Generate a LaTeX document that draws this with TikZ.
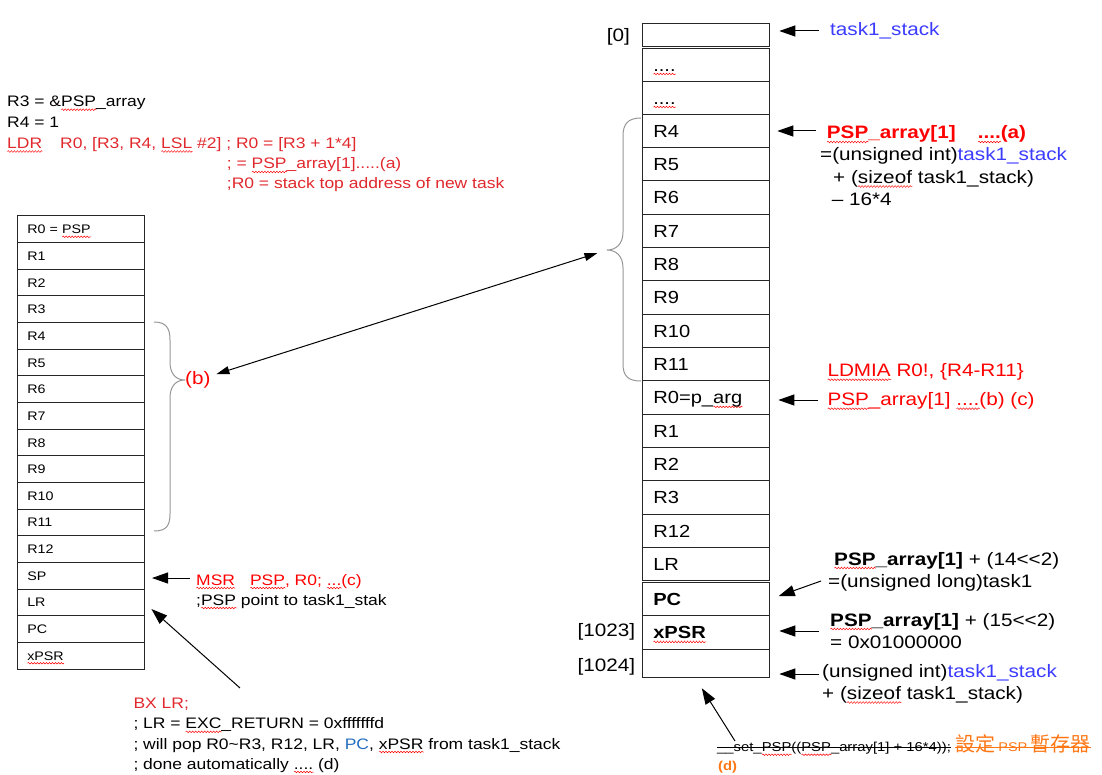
\documentclass[tikz,border=0pt]{standalone}
\usepackage{fontspec}
\setmainfont{Liberation Sans}[FakeStretch=1.15]
\newfontfamily\cjk{Noto Sans CJK TC}
\usetikzlibrary{arrows.meta, positioning, decorations.pathmorphing}
\definecolor{taskblue}{RGB}{60, 60, 255}
\definecolor{codered}{RGB}{224, 40, 45}
\definecolor{hotred}{RGB}{255, 0, 0}
\definecolor{pcblue}{RGB}{35, 110, 190}
\definecolor{regorange}{RGB}{255, 118, 20}
\definecolor{bracegray}{RGB}{150, 150, 150}
\newcommand\notefont{\fontsize{15.2}{18}\selectfont}
\newcommand\rnotefont{\fontsize{18}{22}\selectfont}
\newcommand\lcellfont{\fontsize{12.4}{15}\selectfont}
\newcommand\rcellfont{\fontsize{17.5}{21}\selectfont}
\newcommand\codefont{\fontsize{12.9}{15}\selectfont}
% red wavy line under unknown words
\newsavebox\sqbox
\newcommand\sq[1]{\sbox\sqbox{#1}\rlap{\tikz[x=1pt, y=1pt, baseline=0pt]\draw[hotred, line width=0.5pt, decorate, decoration={snake, amplitude=0.8pt, segment length=3pt}] (0pt,-3pt) -- (\wd\sqbox,-3pt);}\usebox\sqbox}

\begin{document}
\begin{tikzpicture}[x=1pt, y=-1pt,
    lcell/.style={draw=black!85, line width=1pt, outer sep=0pt, minimum width=126.7pt, minimum height=26.65pt, text width=106.7pt, inner xsep=10pt, inner ysep=0pt, align=left, text height=9pt, text depth=0pt, font=\lcellfont},
    rcell/.style={draw=black!85, line width=1pt, outer sep=0pt, minimum width=127pt, minimum height=33.33pt, text width=105pt, inner xsep=11pt, inner ysep=0pt, align=left, text height=12.6pt, text depth=0pt, font=\rcellfont},
    note/.style={anchor=base west, inner sep=0pt, font=\notefont},
    rnote/.style={anchor=base west, inner sep=0pt, font=\rnotefont},
    arrow/.style={-{Triangle[length=16pt, width=11pt]}, line width=1pt},
    dblarrow/.style={{Triangle[length=13pt, width=8pt]}-{Triangle[length=13pt, width=8pt]}, line width=1pt},
    brace/.style={draw=bracegray, line width=1pt}
]
    \useasboundingbox (0,0) rectangle (1102,775);

    % code on top left
    \node[note] (tl1) at (7,106.7) {R3 = \&\sq{PSP}\_array};
    \node[note] (tl2) at (7,127.5) {R4 = 1};
    \node[note, text=codered] (tl3) at (7,148.5) {\sq{LDR}\hspace{18pt}R0, [R3, R4, \sq{LSL} \#2] ; R0 = [R3 + 1*4]};
    \node[note, text=codered] (tl4) at (226.7,169) {; = \sq{PSP}\_array[1].....(a)};
    \node[note, text=codered] (tl5) at (226.7,189) {;R0 = stack top address of new task};

    % left stack (registers)
    \node[lcell] (lr0) at (80.65,229.3) {R0 = \sq{PSP}};
    \node[lcell, below=0pt of lr0] (lr1) {R1};
    \node[lcell, below=0pt of lr1] (lr2) {R2};
    \node[lcell, below=0pt of lr2] (lr3) {R3};
    \node[lcell, below=0pt of lr3] (lr4) {R4};
    \node[lcell, below=0pt of lr4] (lr5) {R5};
    \node[lcell, below=0pt of lr5] (lr6) {R6};
    \node[lcell, below=0pt of lr6] (lr7) {R7};
    \node[lcell, below=0pt of lr7] (lr8) {R8};
    \node[lcell, below=0pt of lr8] (lr9) {R9};
    \node[lcell, below=0pt of lr9] (lr10) {R10};
    \node[lcell, below=0pt of lr10] (lr11) {R11};
    \node[lcell, below=0pt of lr11] (lr12) {R12};
    \node[lcell, below=0pt of lr12] (lsp) {SP};
    \node[lcell, below=0pt of lsp] (llr) {LR};
    \node[lcell, below=0pt of llr] (lpc) {PC};
    \node[lcell, below=0pt of lpc] (lxpsr) {\sq{xPSR}};

    % right stack (task1_stack)
    \node[rcell, minimum height=23pt] (s0) at (705.8,34.8) {};
    \node[rcell, minimum height=33pt, below=2pt of s0] (sd1) {\sq{....}};
    \node[rcell, minimum height=33pt, below=0pt of sd1] (sd2) {\sq{....}};
    \node[rcell, below=0pt of sd2] (sr4) {R4};
    \node[rcell, below=0pt of sr4] (sr5) {R5};
    \node[rcell, below=0pt of sr5] (sr6) {R6};
    \node[rcell, below=0pt of sr6] (sr7) {R7};
    \node[rcell, below=0pt of sr7] (sr8) {R8};
    \node[rcell, below=0pt of sr8] (sr9) {R9};
    \node[rcell, below=0pt of sr9] (sr10) {R10};
    \node[rcell, below=0pt of sr10] (sr11) {R11};
    \node[rcell, below=0pt of sr11] (sr0) {R0=p\_\sq{arg}};
    \node[rcell, below=0pt of sr0] (sr1) {R1};
    \node[rcell, below=0pt of sr1] (sr2) {R2};
    \node[rcell, below=0pt of sr2] (sr3) {R3};
    \node[rcell, below=0pt of sr3] (sr12) {R12};
    \node[rcell, below=0pt of sr12] (slr) {LR};
    \node[rcell, minimum height=33pt, below=2pt of slr] (spc) {\textbf{PC}};
    \node[rcell, below=0pt of spc] (sxpsr) {\textbf{\sq{xPSR}}};
    \node[rcell, minimum height=28pt, below=0pt of sxpsr] (send) {};

    % index labels
    \node[rnote] (idx0) at (606.7,41.5) {[0]};
    \node[rnote] (idx1023) at (577.3,636.7) {[1023]};
    \node[rnote] (idx1024) at (577.3,671.7) {[1024]};

    % braces
    \draw[brace] (154,322) .. controls (166,322) and (170,328) .. (170,340) -- (170,362)
        .. controls (170,374) and (176,380) .. (185,380) .. controls (176,380) and (170,386) .. (170,398)
        -- (170,514) .. controls (170,526) and (166,531) .. (154,531);
    \draw[brace] (641,118) .. controls (628,118) and (623,124) .. (623,136) -- (623,232)
        .. controls (623,244) and (616,250) .. (607,250) .. controls (616,250) and (623,256) .. (623,268)
        -- (623,364) .. controls (623,376) and (628,381) .. (641,381);
    \node[anchor=west, inner sep=0pt, font=\rnotefont, text=hotred] (blabel) at (185,380) {(b)};
    \coordinate (rtip) at (607,250);
    \draw[dblarrow, shorten <=6pt, shorten >=10pt] (blabel) -- (rtip);

    % notes on the right
    \node[rnote, text=taskblue] (stackname) at (830,36) {task1\_stack};
    \node[rnote, text=hotred, font=\rnotefont\bfseries] (a1) at (826.7,139) {\sq{PSP}\_array[1]\hspace{22pt}\sq{....}(a)};
    \node[rnote] (a2) at (820,161) {=(unsigned int)\textcolor{taskblue}{task1\_stack}};
    \node[rnote] (a3) at (833,183.5) {+ (\sq{sizeof} task1\_stack)};
    \node[rnote] (a4) at (831.7,206) {-- 16*4};
    \node[rnote, text=hotred] (ldmia) at (827.3,376.7) {\sq{LDMIA} R0!, \{R4-R11\}};
    \node[rnote, text=hotred] (bc) at (827.3,405.7) {\sq{PSP}\_array[1] \sq{....}(b) (c)};
    \node[rnote] (pc1) at (834,565) {\textbf{\sq{PSP}\_array[1]} + (14<{}<2)};
    \node[rnote] (pc2) at (828,587) {=(unsigned long)task1};
    \node[rnote] (xp1) at (830,626) {\textbf{\sq{PSP}\_array[1]} + (15<{}<2)};
    \node[rnote] (xp2) at (830,648.5) {= 0x01000000};
    \node[rnote] (e1) at (822,677.5) {(unsigned int)\textcolor{taskblue}{task1\_stack}};
    \node[rnote] (e2) at (822,699.5) {+ (\sq{sizeof} task1\_stack)};

    \coordinate (t0) at (819,31);
    \coordinate (t4) at (816,131);
    \coordinate (tr0) at (818,400);
    \coordinate (tpc) at (821,581);
    \coordinate (txpsr) at (819,631);
    \coordinate (tend) at (819,674);
    \draw[arrow, shorten >=10pt] (t0) -- (t0 -| s0.east);
    \draw[arrow, shorten >=8pt] (t4) -- (t4 -| sr4.east);
    \draw[arrow, shorten >=9pt] (tr0) -- (tr0 -| sr0.east);
    \draw[arrow, shorten >=10pt] (tpc) -- (spc.east);
    \draw[arrow, shorten >=10pt] (txpsr) -- (txpsr -| sxpsr.east);
    \draw[arrow, shorten >=10pt] (tend) -- (tend -| send.east);

    % notes on the left
    \node[note, text=hotred] (msr1) at (196,585) {\sq{MSR}\hspace{15pt}\sq{PSP}, R0; \sq{...}(c)};
    \node[note] (msr2) at (196,605) {;\sq{PSP} point to task1\_stak};
    \coordinate (tsp) at (190,578);
    \draw[arrow, shorten >=8pt] (tsp) -- (tsp -| lsp.east);

    \node[note, text=codered] (bx1) at (133.3,708) {BX LR;};
    \node[note] (bx2) at (133.3,728.8) {; LR = \sq{EXC}\_RETURN = 0xfffffffd};
    \node[note] (bx3) at (133.3,749) {; will pop R0\textasciitilde R3, R12, LR, \textcolor{pcblue}{PC}, \sq{xPSR} from task1\_stack};
    \node[note] (bx4) at (133.3,769) {; done automatically \sq{....} (d)};
    \coordinate (tlr) at (240,688);
    \draw[arrow, shorten >=10pt] (tlr) -- (llr.east);

    % set_PSP, struck out
    \node[anchor=base west, inner sep=0pt, font=\codefont] (setpsp) at (717,751.7) {\_\_set\_\sq{PSP}((\sq{PSP}\_array[1] + 16*4));};
    \node[anchor=base west, inner sep=0pt, text=regorange] (settw) at (955,751.7) {{\fontsize{20}{24}\cjk 設定} {\fontsize{12.6}{15}\selectfont PSP} {\fontsize{20}{24}\cjk 暫存器}};
    \draw[line width=0.8pt] ([yshift=4.5pt]setpsp.base west) -- ([yshift=4.5pt]setpsp.base east);
    \draw[line width=0.8pt, regorange] ([yshift=4.5pt]settw.base west) -- ([yshift=4.5pt]settw.base east);
    \node[anchor=base west, inner sep=0pt, font=\codefont\bfseries, text=regorange] (dlabel) at (718,770) {(d)};
    \coordinate (tset) at (735,741);
    \draw[arrow] (tset) -- ([xshift=-4pt, yshift=-11pt]send.south);
\end{tikzpicture}
\end{document}
